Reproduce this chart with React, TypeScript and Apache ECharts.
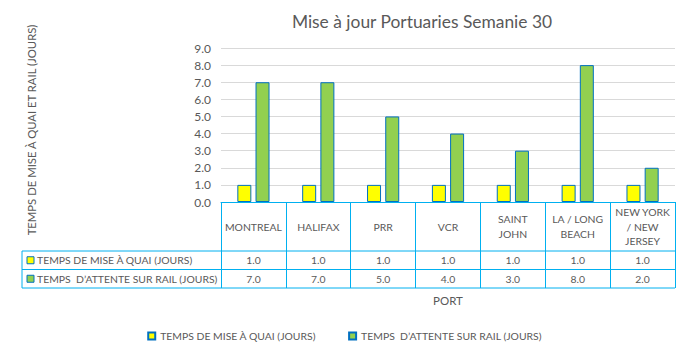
import React, { useEffect, useRef } from "react";
import * as echarts from "echarts";

const titleText = "Mise à jour Portuaries Semanie 30";
const yAxisTitle = "TEMPS DE MISE À QUAI ET RAIL (JOURS)";
const xAxisTitle = "PORT";
const categories = [
  "MONTREAL",
  "HALIFAX",
  "PRR",
  "VCR",
  "SAINT\nJOHN",
  "LA / LONG\nBEACH",
  "NEW YORK\n/ NEW\nJERSEY",
];
const quaiName = "TEMPS DE MISE À QUAI (JOURS)";
const railName = "TEMPS  D’ATTENTE SUR RAIL (JOURS)";
const quaiValues = [1, 1, 1, 1, 1, 1, 1];
const railValues = [7, 7, 5, 4, 3, 8, 2];

const FONT = "Lato, 'Noto Sans', sans-serif";
const TXT = "#595959";
const TABLE = "#00B0F0";
const EDGE = "#0070C0";
const YELLOW = "#FFFF00";
const GREEN = "#92D050";
const SMALL = 10.4;

const W = 689;
const H = 351;
const GRID_LEFT = 221;
const GRID_RIGHT = 14;
const GRID_TOP = 48;
const GRID_BOTTOM = 149; // axis at y=202
const HEADER_H = 49;
const ROW_H = 18.5;
const TABLE_LEFT = 22;

export default function App() {
  const ref = useRef<HTMLDivElement>(null);
  useEffect(() => {
    if (!ref.current) return;
    const chart = echarts.init(ref.current, undefined, { renderer: "svg" });
    const axisY = H - GRID_BOTTOM;
    const tableBottom = axisY + HEADER_H + 2 * ROW_H;
    chart.setOption({
      animation: false,
      backgroundColor: "#ffffff",
      textStyle: { fontFamily: FONT },
      title: {
        text: titleText,
        left: 417,
        top: 8,
        textAlign: "center",
        textStyle: { fontFamily: FONT, fontSize: 17.4, fontWeight: "normal", color: TXT },
      },
      legend: {
        top: 326,
        left: "center",
        itemWidth: 7,
        itemHeight: 7,
        itemGap: 32,
        icon: "rect",
        textStyle: { fontFamily: FONT, fontSize: SMALL, color: TXT },
        data: [quaiName, railName],
      },
      grid: {
        left: GRID_LEFT,
        right: GRID_RIGHT,
        top: GRID_TOP,
        bottom: GRID_BOTTOM,
        containLabel: false,
      },
      xAxis: {
        type: "category",
        data: categories,
        name: xAxisTitle,
        nameLocation: "middle",
        nameGap: 98,
        nameTextStyle: { fontFamily: FONT, fontSize: 11.5, color: TXT, verticalAlign: "middle" },
        axisLine: { show: true, lineStyle: { color: TABLE, width: 1 } },
        axisTick: {
          show: true,
          interval: 0,
          alignWithLabel: false,
          length: HEADER_H + 2 * ROW_H,
          lineStyle: { color: TABLE, width: 1 },
        },
        axisLabel: {
          interval: 0,
          margin: HEADER_H / 2,
          verticalAlign: "middle",
          lineHeight: 14.5,
          fontFamily: FONT,
          fontSize: SMALL,
          color: TXT,
        },
      },
      yAxis: {
        type: "value",
        min: 0,
        max: 9,
        interval: 1,
        axisLine: { show: false },
        axisTick: { show: false },
        axisLabel: {
          margin: 10,
          fontFamily: FONT,
          fontSize: 12,
          color: TXT,
          formatter: (v: number) => v.toFixed(1),
        },
        splitLine: { lineStyle: { color: "#D9D9D9", width: 1 } },
      },
      series: [
        {
          name: quaiName,
          type: "bar",
          data: quaiValues,
          barWidth: 14,
          barGap: "30%",
          itemStyle: { color: YELLOW, borderColor: EDGE, borderWidth: 1 },
        },
        {
          name: railName,
          type: "bar",
          data: railValues,
          barWidth: 14,
          itemStyle: { color: GREEN, borderColor: EDGE, borderWidth: 1 },
        },
      ],
    });

    const rightX = W - GRID_RIGHT;
    const row1Top = axisY + HEADER_H;
    const row2Top = row1Top + ROW_H;
    const g: any[] = [];
    [row1Top, row2Top, tableBottom].forEach((y) => {
      g.push({
        type: "line",
        shape: { x1: TABLE_LEFT, y1: y, x2: rightX, y2: y },
        style: { stroke: TABLE, lineWidth: 1 },
      });
    });
    g.push({
      type: "line",
      shape: { x1: TABLE_LEFT, y1: row1Top, x2: TABLE_LEFT, y2: tableBottom },
      style: { stroke: TABLE, lineWidth: 1 },
    });
    const rows = [
      { name: quaiName, values: quaiValues, color: YELLOW, top: row1Top },
      { name: railName, values: railValues, color: GREEN, top: row2Top },
    ];
    rows.forEach((r) => {
      const cy = r.top + ROW_H / 2;
      g.push({
        type: "rect",
        shape: { x: 27, y: cy - 3.5, width: 7, height: 7 },
        style: { fill: r.color, stroke: EDGE, lineWidth: 1 },
      });
      g.push({
        type: "text",
        x: 37,
        y: cy,
        style: {
          text: r.name,
          fill: TXT,
          font: `${SMALL}px ${FONT}`,
          verticalAlign: "middle",
          align: "left",
        },
      });
      r.values.forEach((v, i) => {
        const px = chart.convertToPixel({ xAxisIndex: 0 }, i) as number;
        g.push({
          type: "text",
          x: px,
          y: cy,
          style: {
            text: v.toFixed(1),
            fill: TXT,
            font: `${SMALL}px ${FONT}`,
            align: "center",
            verticalAlign: "middle",
          },
        });
      });
    });
    g.push({
      type: "text",
      x: 31,
      y: 130,
      rotation: Math.PI / 2,
      style: {
        text: yAxisTitle,
        fill: TXT,
        font: `11.3px ${FONT}`,
        align: "center",
        verticalAlign: "middle",
      },
    });
    chart.setOption({ graphic: g });
    return () => chart.dispose();
  }, []);
  return (
    <div
      ref={ref}
      style={{ position: "absolute", left: 0, top: 0, width: W, height: H }}
    />
  );
}
